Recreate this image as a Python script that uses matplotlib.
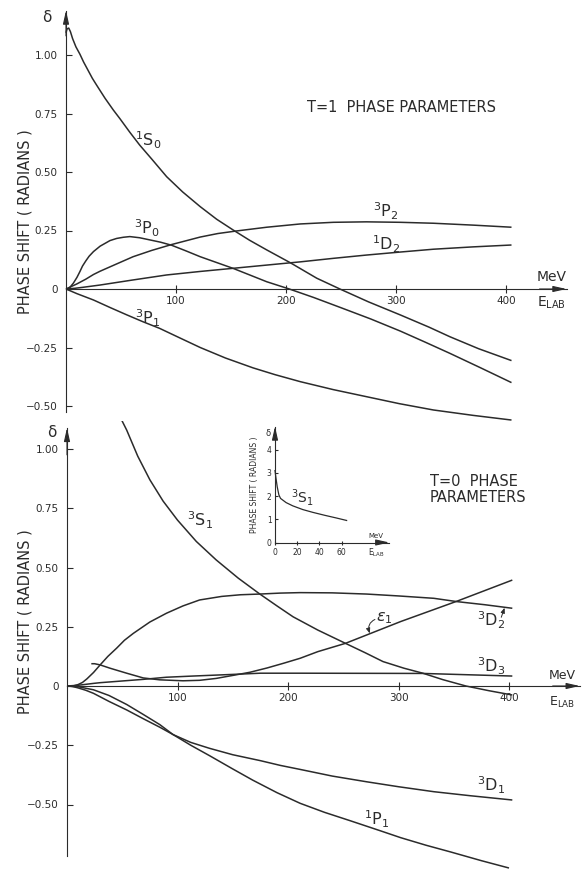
import matplotlib.pyplot as plt

W, H = 582, 869
INK = '#2b2b2b'

# ---- T = 1 phase shifts (radians) against E_lab (MeV)
e_1s0 = [0, 1, 2.5, 4, 6, 9, 12.7, 16, 20, 24, 28, 35.5, 43, 49, 58, 67, 78, 91.5, 106, 122, 137, 152, 167,
         182.5, 204, 228, 249, 275, 304, 330, 349, 375, 405]
d_1s0 = [1.095, 1.112, 1.115, 1.10, 1.07, 1.035, 1.003, 0.97, 0.935, 0.90, 0.87, 0.815, 0.765, 0.728, 0.67,
         0.615, 0.555, 0.48, 0.415, 0.352, 0.298, 0.252, 0.208, 0.167, 0.112, 0.046, 0.0, -0.055, -0.111,
         -0.163, -0.204, -0.255, -0.306]
e_3p0 = [0, 3, 6.7, 10, 12.7, 15, 18, 21, 25, 31, 40, 46, 52, 58, 67, 76, 86, 96, 109, 122, 137, 152, 167,
         182.5, 203, 225, 250, 277, 304, 326, 349, 377, 405]
d_3p0 = [0, 0.004, 0.025, 0.05, 0.075, 0.098, 0.12, 0.14, 0.16, 0.183, 0.207, 0.216, 0.221, 0.224, 0.219,
         0.21, 0.2, 0.187, 0.163, 0.138, 0.113, 0.088, 0.06, 0.031, 0.0, -0.036, -0.08, -0.128, -0.18,
         -0.226, -0.275, -0.337, -0.40]
e_3p2 = [0, 10, 18, 25, 31, 45, 61, 78, 96, 122, 138, 155, 182.5, 213, 243, 273, 304, 334, 370, 405]
d_3p2 = [0, 0.022, 0.042, 0.062, 0.076, 0.105, 0.138, 0.165, 0.19, 0.222, 0.237, 0.248, 0.264, 0.278,
         0.285, 0.287, 0.285, 0.281, 0.273, 0.264]
e_1d2 = [0, 8, 15, 31, 60, 91.5, 122, 151, 182, 213, 243, 273, 304, 334, 370, 405]
d_1d2 = [0, 0.003, 0.007, 0.017, 0.038, 0.06, 0.075, 0.088, 0.102, 0.116, 0.131, 0.145, 0.158, 0.17,
         0.18, 0.188]
e_3p1 = [0, 10, 25, 40, 55, 70, 85, 103, 122, 145, 170, 190, 213, 243, 273, 303, 334, 370, 405]
d_3p1 = [0, -0.02, -0.047, -0.079, -0.11, -0.14, -0.168, -0.208, -0.25, -0.295, -0.337, -0.366, -0.396,
         -0.43, -0.46, -0.49, -0.517, -0.54, -0.56]

# ---- T = 0 phase parameters
e_3s1 = [40, 47, 54, 64, 75, 87, 100, 117, 135, 155, 174.5, 190, 204.6, 227, 252, 270, 286, 305, 322, 340,
         361, 382, 403]
d_3s1 = [1.22, 1.145, 1.08, 0.97, 0.87, 0.78, 0.70, 0.61, 0.532, 0.455, 0.388, 0.338, 0.292, 0.236, 0.18,
         0.14, 0.103, 0.075, 0.054, 0.027, 0.0, -0.02, -0.038]
e_3d2 = [0, 5.5, 10, 14, 18, 24, 30, 37, 45, 52, 60, 75, 90, 105, 120, 140, 157, 174.5, 193, 211, 240, 271,
         300, 332, 353, 378, 403]
d_3d2 = [0, 0.0, 0.006, 0.015, 0.03, 0.057, 0.089, 0.125, 0.16, 0.193, 0.222, 0.27, 0.307, 0.338, 0.363,
         0.378, 0.385, 0.388, 0.392, 0.394, 0.393, 0.388, 0.38, 0.37, 0.356, 0.343, 0.328]
e_eps1 = [22, 25, 30, 39, 54, 69, 84, 105, 120, 135, 150.5, 165.6, 181, 196, 211, 227, 252, 302, 353, 403]
d_eps1 = [0.094, 0.094, 0.089, 0.075, 0.054, 0.034, 0.026, 0.022, 0.024, 0.032, 0.045, 0.058, 0.076, 0.096,
          0.117, 0.145, 0.18, 0.272, 0.358, 0.447]
e_3d3 = [0, 10, 24, 30, 69, 90, 114, 150.5, 175, 211, 322, 403]
d_3d3 = [0, 0.003, 0.011, 0.014, 0.028, 0.037, 0.042, 0.049, 0.054, 0.054, 0.053, 0.042]
e_3d1 = [0, 5, 10, 17, 24, 38, 54, 69, 84, 96, 112, 129, 150, 175, 193, 211, 240, 271, 300, 332, 365, 403]
d_3d1 = [0, -0.002, -0.008, -0.018, -0.031, -0.065, -0.101, -0.138, -0.174, -0.205, -0.238, -0.263, -0.29,
         -0.315, -0.335, -0.352, -0.38, -0.404, -0.425, -0.446, -0.463, -0.481]
e_1p1 = [0, 10, 24, 38, 54, 69, 84, 96, 112, 129, 150, 168, 190, 211, 233, 256, 283, 302, 325, 347, 375, 400]
d_1p1 = [0, -0.003, -0.016, -0.04, -0.078, -0.12, -0.163, -0.205, -0.25, -0.294, -0.35, -0.397, -0.45,
         -0.495, -0.533, -0.568, -0.61, -0.64, -0.672, -0.70, -0.737, -0.768]

# inset: 3S1 at low energy
e_ins = [0, 0.8, 2, 3.5, 5, 10, 16, 25, 34, 45, 55, 64.5]
d_ins = [3.1, 2.8, 2.4, 2.05, 1.9, 1.72, 1.58, 1.42, 1.3, 1.17, 1.06, 0.95]

yticks_main = [-0.5, -0.25, 0, 0.25, 0.5, 0.75, 1.0]
ylabels_main = ['\u22120.50', '\u22120.25', '0', '0.25', '0.50', '0.75', '1.00']
xticks_main = [100, 200, 300, 400]


def place(x0, sx, xlim, y0, sy, ylim):
    left, right = x0 + sx * xlim[0], x0 + sx * xlim[1]
    top, bottom = y0 - sy * ylim[1], y0 - sy * ylim[0]
    return [left / W, 1 - bottom / H, (right - left) / W, (bottom - top) / H]


def frame(ax, xlim, ylim, ybounds, xend, fs, tlen):
    ax.set_xlim(xlim)
    ax.set_ylim(ylim)
    ax.patch.set_visible(False)
    for s in ('top', 'right'):
        ax.spines[s].set_visible(False)
    for s in ('left', 'bottom'):
        ax.spines[s].set_position(('data', 0))
        ax.spines[s].set_color(INK)
        ax.spines[s].set_linewidth(0.8)
    ax.spines['left'].set_bounds(*ybounds)
    ax.spines['bottom'].set_bounds(0, xend)
    ax.tick_params(axis='y', direction='in', length=tlen, width=0.8, pad=tlen + 2,
                   labelsize=fs, colors=INK)
    ax.tick_params(axis='x', direction='inout', length=tlen * 1.4, width=0.8, pad=2,
                   labelsize=fs, colors=INK)
    arrow = dict(arrowstyle='-|>,head_length=0.8,head_width=0.18', color=INK, lw=0.8,
                 shrinkA=0, shrinkB=0)
    span_y = ylim[1] - ylim[0]
    span_x = xlim[1] - xlim[0]
    ax.annotate('', xy=(0, ybounds[1]), xytext=(0, ybounds[1] - 0.06 * span_y), arrowprops=arrow,
                annotation_clip=False)
    ax.annotate('', xy=(xend, 0), xytext=(xend - 0.05 * span_x, 0), arrowprops=arrow,
                annotation_clip=False)


fig = plt.figure(figsize=(W / 100, H / 100), dpi=100)
lw = 1.1

# ---------------- top panel (T = 1)
top_xlim, top_ylim = (-25, 465), (-0.575, 1.23)
ax1 = fig.add_axes(place(66, 1.10, top_xlim, 289, 234, top_ylim))
frame(ax1, top_xlim, top_ylim, (-0.525, 1.19), 455, 7.5, 4)
ax1.set_yticks(yticks_main, ylabels_main)
ax1.set_xticks(xticks_main, [str(v) for v in xticks_main])
for e, d in [(e_1s0, d_1s0), (e_3p0, d_3p0), (e_3p2, d_3p2), (e_1d2, d_1d2), (e_3p1, d_3p1)]:
    ax1.plot(e, d, color=INK, lw=lw, solid_capstyle='butt', solid_joinstyle='round')

lab = dict(color=INK, fontsize=11.5, ha='center', va='center')
ax1.text(74.5, 0.637, r'$^{1}\mathrm{S}_{0}$', **lab)
ax1.text(73.6, 0.26, r'$^{3}\mathrm{P}_{0}$', **lab)
ax1.text(74.5, -0.124, r'$^{3}\mathrm{P}_{1}$', **lab)
ax1.text(291, 0.333, r'$^{3}\mathrm{P}_{2}$', **lab)
ax1.text(291, 0.192, r'$^{1}\mathrm{D}_{2}$', **lab)
ax1.text(219, 0.774, 'T=1  PHASE PARAMETERS', color=INK, fontsize=10.5, ha='left', va='center')
ax1.text(428, 0.051, 'MeV', color=INK, fontsize=10, ha='left', va='center')
ax1.text(428, -0.06, r'E$_{\mathrm{LAB}}$', color=INK, fontsize=10, ha='left', va='center')
ax1.text(-17, 1.16, '\u03b4', color=INK, fontsize=11, ha='center', va='center')

# ---------------- bottom panel (T = 0)
bot_xlim, bot_ylim = (-25, 465), (-0.775, 1.12)
ax2 = fig.add_axes(place(67, 1.105, bot_xlim, 686, 237, bot_ylim))
frame(ax2, bot_xlim, bot_ylim, (-0.717, 1.089), 464, 7.5, 4)
ax2.set_yticks(yticks_main, ylabels_main)
ax2.set_xticks(xticks_main, [str(v) for v in xticks_main])
for e, d in [(e_3s1, d_3s1), (e_3d2, d_3d2), (e_eps1, d_eps1), (e_3d3, d_3d3), (e_3d1, d_3d1), (e_1p1, d_1p1)]:
    ax2.plot(e, d, color=INK, lw=lw, solid_capstyle='butt', solid_joinstyle='round')

ax2.text(120, 0.70, r'$^{3}\mathrm{S}_{1}$', **lab)
ax2.text(287, 0.285, r'$\varepsilon_{1}$', **lab)
ax2.annotate('', xy=(274, 0.222), xytext=(281, 0.285),
             arrowprops=dict(arrowstyle='-|>,head_length=0.3,head_width=0.12', color=INK, lw=0.7,
                             connectionstyle='arc3,rad=0.5', shrinkA=2, shrinkB=0))
ax2.text(384, 0.278, r'$^{3}\mathrm{D}_{2}$', **lab)
ax2.annotate('', xy=(396, 0.33), xytext=(393, 0.29),
             arrowprops=dict(arrowstyle='-|>,head_length=0.3,head_width=0.12', color=INK, lw=0.7,
                             shrinkA=0, shrinkB=0))
ax2.text(384, 0.084, r'$^{3}\mathrm{D}_{3}$', **lab)
ax2.text(384, -0.42, r'$^{3}\mathrm{D}_{1}$', **lab)
ax2.text(280, -0.561, r'$^{1}\mathrm{P}_{1}$', **lab)
ax2.text(328.5, 0.861, 'T=0  PHASE', color=INK, fontsize=10.5, ha='left', va='center')
ax2.text(328.5, 0.797, 'PARAMETERS', color=INK, fontsize=10.5, ha='left', va='center')
ax2.text(436, 0.046, 'MeV', color=INK, fontsize=9, ha='left', va='center')
ax2.text(436, -0.068, r'E$_{\mathrm{LAB}}$', color=INK, fontsize=9, ha='left', va='center')
ax2.text(-13.6, 1.07, '\u03b4', color=INK, fontsize=11, ha='center', va='center')

# ---------------- inset: 3S1 over 0-65 MeV
ins_xlim, ins_ylim = (-5, 108), (-0.4, 5.3)
ax3 = fig.add_axes(place(275, 1.11, ins_xlim, 542.5, 23.2, ins_ylim))
frame(ax3, ins_xlim, ins_ylim, (0, 5.0), 103, 5.5, 2.5)
ax3.set_yticks([0, 1, 2, 3, 4], ['0', '1', '2', '3', '4'])
ax3.set_xticks([0, 20, 40, 60], ['0', '20', '40', '60'])
ax3.tick_params(axis='y', pad=2.5)
ax3.plot(e_ins, d_ins, color=INK, lw=0.9, solid_joinstyle='round')
ax3.text(25, 1.92, r'$^{3}\mathrm{S}_{1}$', color=INK, fontsize=10, ha='center', va='center')
ax3.text(-6, 4.7, '\u03b4', color=INK, fontsize=6, ha='center', va='center')
ax3.text(84, 0.3, 'MeV', color=INK, fontsize=5, ha='left', va='center')
ax3.text(84, -0.45, r'E$_{\mathrm{LAB}}$', color=INK, fontsize=5.5, ha='left', va='center')
fig.text(255 / W, 1 - 485 / H, 'PHASE SHIFT ( RADIANS )', color=INK, fontsize=5.5,
         rotation=90, ha='center', va='center')

# main y-axis titles
fig.text(25 / W, 1 - 222 / H, 'PHASE SHIFT ( RADIANS )', color=INK, fontsize=10.5,
         rotation=90, ha='center', va='center')
fig.text(25 / W, 1 - 622 / H, 'PHASE SHIFT ( RADIANS )', color=INK, fontsize=10.5,
         rotation=90, ha='center', va='center')

fig.savefig('out.png', dpi=100, facecolor='white')
